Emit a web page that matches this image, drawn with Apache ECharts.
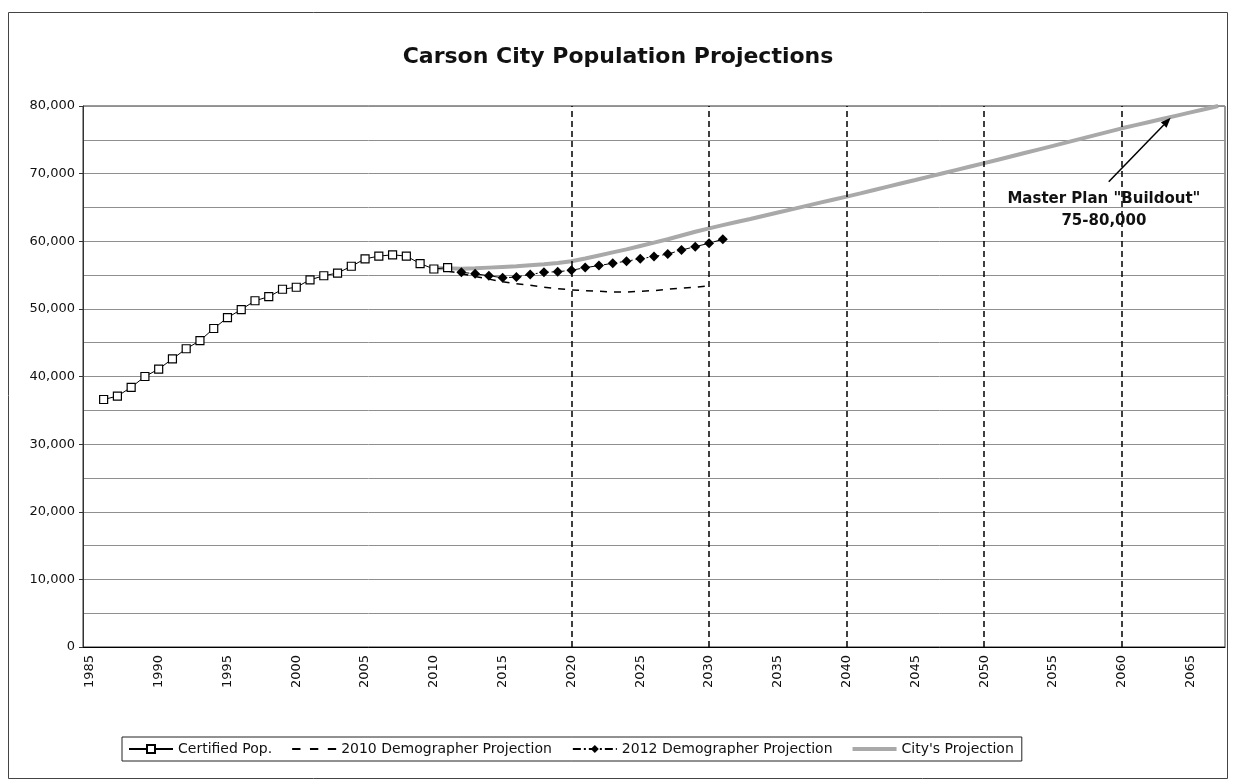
<!DOCTYPE html>
<html>
<head>
<meta charset="utf-8">
<title>Carson City Population Projections</title>
<script src="https://cdn.jsdelivr.net/npm/echarts@6/dist/echarts.min.js"></script>
<style>
  html, body { margin: 0; padding: 0; background: #ffffff; }
  #chart { width: 1236px; height: 782px; }
</style>
</head>
<body>
<div id="chart"></div>
<script>
// Year categories along the horizontal axis
const years = [
  '1985','1986','1987','1988','1989','1990','1991','1992','1993','1994',
  '1995','1996','1997','1998','1999','2000','2001','2002','2003','2004',
  '2005','2006','2007','2008','2009','2010','2011','2012','2013','2014',
  '2015','2016','2017','2018','2019','2020','2021','2022','2023','2024',
  '2025','2026','2027','2028','2029','2030','2031','2032','2033','2034',
  '2035','2036','2037','2038','2039','2040','2041','2042','2043','2044',
  '2045','2046','2047','2048','2049','2050','2051','2052','2053','2054',
  '2055','2056','2057','2058','2059','2060','2061','2062','2063','2064',
  '2065','2066','2067'
];

// Certified population, 1986-2011
const certifiedStart = 1986;
const certifiedPop = [
  36600, 37100, 38400, 40000, 41100, 42600, 44100, 45300, 47100, 48700,
  49900, 51200, 51800, 52900, 53200, 54300, 54900, 55300, 56300, 57400,
  57800, 58000, 57800, 56700, 55900, 56100
];

// 2010 demographer projection, 2011-2030
const demo2010Start = 2011;
const demo2010 = [
  55600, 55200, 54800, 54400, 54000, 53700, 53500, 53200, 53000, 52800,
  52700, 52600, 52500, 52500, 52600, 52700, 52900, 53050, 53200, 53400
];

// 2012 demographer projection, 2012-2031
const demo2012Start = 2012;
const demo2012 = [
  55400, 55200, 54900, 54600, 54700, 55100, 55400, 55500, 55700, 56100,
  56400, 56750, 57050, 57400, 57750, 58100, 58700, 59200, 59700, 60300
];

// City's projection, 2010-2067
const cityStart = 2010;
const cityProj = [
  56000, 56000, 55950, 56000, 56100, 56200, 56300, 56450, 56600, 56800,
  57050, 57450, 57900, 58350, 58800, 59300, 59800, 60300, 60850, 61400,
  61900, 62380, 62850, 63300, 63780, 64250, 64720, 65200, 65670, 66140,
  66600, 67080, 67580, 68080, 68570, 69060, 69560, 70060, 70560, 71060,
  71550, 72060, 72570, 73080, 73590, 74100, 74620, 75140, 75660, 76180,
  76700, 77170, 77640, 78110, 78580, 79050, 79520, 80000
];

// Decade reference lines
const decadeMarks = ['2020', '2030', '2040', '2050', '2060'];

// Y-axis range and label step
const yMin = 0, yMax = 80000, yStep = 10000;

const FONT = '"DejaVu Sans", Verdana, sans-serif';

function pairs(start, values) {
  return values.map((v, i) => [String(start + i), v]);
}

const chart = echarts.init(document.getElementById('chart'), null, { renderer: 'canvas' });

chart.setOption({
  animation: false,
  backgroundColor: '#ffffff',
  title: {
    text: 'Carson City Population Projections',
    left: 'center',
    top: 41,
    textStyle: { fontFamily: FONT, fontSize: 22, fontWeight: 'bold', color: '#111' }
  },
  legend: {
    left: 122,
    top: 737,
    orient: 'horizontal',
    itemGap: 20,
    itemWidth: 44,
    itemHeight: 10,
    padding: [5, 8, 5, 6],
    borderColor: '#222',
    borderWidth: 1,
    textStyle: { fontFamily: FONT, fontSize: 14, color: '#111' },
    data: [
      { name: 'Certified Pop.' },
      {
        name: '2010 Demographer Projection',
        icon: 'path://M0,0h7v1.6h-7z M15,0h7v1.6h-7z M30,0h7v1.6h-7z',
        itemStyle: { color: '#000' }
      },
      { name: '2012 Demographer Projection' },
      {
        name: "City's Projection",
        icon: 'path://M0,0h44v4h-44z',
        itemStyle: { color: '#a9a9a9' }
      }
    ]
  },
  grid: {
    left: 83,
    right: 11,
    top: 106,
    bottom: 135,
    show: true,
    borderColor: '#333',
    borderWidth: 1,
    backgroundColor: 'transparent'
  },
  xAxis: {
    type: 'category',
    data: years,
    boundaryGap: true,
    axisLine: { lineStyle: { color: '#000', width: 1 } },
    axisTick: { interval: 0, length: 4, lineStyle: { color: '#000' } },
    axisLabel: {
      interval: function (idx) { return idx % 5 === 0; },
      rotate: 90,
      margin: 8,
      fontFamily: FONT,
      fontSize: 13,
      color: '#111'
    },
    splitLine: { show: false }
  },
  yAxis: {
    type: 'value',
    min: yMin,
    max: yMax,
    interval: yStep,
    axisLine: { show: true, lineStyle: { color: '#333' } },
    axisTick: { show: true, length: 4, lineStyle: { color: '#333' } },
    axisLabel: {
      margin: 8,
      fontFamily: FONT,
      fontSize: 13,
      color: '#111',
      formatter: function (v) { return v.toLocaleString('en-US'); }
    },
    splitLine: { show: true, lineStyle: { color: '#8f8f8f', width: 1 } },
    minorTick: { show: false, splitNumber: 2 },
    minorSplitLine: { show: true, lineStyle: { color: '#8f8f8f', width: 1 } }
  },
  series: [
    {
      name: "City's Projection",
      type: 'line',
      data: pairs(cityStart, cityProj),
      symbol: 'none',
      z: 1,
      lineStyle: { color: '#a9a9a9', width: 4 },
      itemStyle: { color: '#a9a9a9' },
      markLine: {
        silent: true,
        symbol: ['none', 'none'],
        label: { show: false },
        lineStyle: { color: '#000', type: [6, 4], width: 1.5 },
        data: decadeMarks.map(y => ({ xAxis: y }))
      }
    },
    {
      name: '2010 Demographer Projection',
      type: 'line',
      data: pairs(demo2010Start, demo2010),
      symbol: 'none',
      z: 2,
      lineStyle: { color: '#000', width: 1.5, type: [7, 7] },
      itemStyle: { color: '#000' }
    },
    {
      name: '2012 Demographer Projection',
      type: 'line',
      data: pairs(demo2012Start, demo2012),
      symbol: 'diamond',
      symbolSize: 10,
      showAllSymbol: true,
      z: 3,
      lineStyle: { color: '#000', width: 1, type: [8, 3, 2, 3] },
      itemStyle: { color: '#000' }
    },
    {
      name: 'Certified Pop.',
      type: 'line',
      data: pairs(certifiedStart, certifiedPop),
      symbol: 'rect',
      symbolSize: 8,
      showAllSymbol: true,
      z: 4,
      lineStyle: { color: '#000', width: 1 },
      itemStyle: { color: '#fff', borderColor: '#000', borderWidth: 1.2 }
    }
  ]
});

// Position helper: fractional year + value -> pixel
function toPx(yearF, value) {
  const base = Math.floor(yearF);
  const p0 = chart.convertToPixel({ gridIndex: 0 }, [String(base), value]);
  const p1 = chart.convertToPixel({ gridIndex: 0 }, [String(base + 1), value]);
  return [p0[0] + (yearF - base) * (p1[0] - p0[0]), p0[1]];
}

// Buildout annotation with arrow pointing at the projection line
const arrowFrom = toPx(2059.05, 68800);
const arrowTo = toPx(2063.55, 78250);
const ang = Math.atan2(arrowTo[1] - arrowFrom[1], arrowTo[0] - arrowFrom[0]);
const headLen = 10, headW = 4;
const hx = arrowTo[0] - headLen * Math.cos(ang), hy = arrowTo[1] - headLen * Math.sin(ang);
const head = [
  arrowTo,
  [hx + headW * Math.sin(ang), hy - headW * Math.cos(ang)],
  [hx - headW * Math.sin(ang), hy + headW * Math.cos(ang)]
];
const labelPos = toPx(2058.7, 67900);

chart.setOption({
  graphic: [
    {
      type: 'rect',
      silent: true,
      shape: { x: 8.5, y: 12.5, width: 1219, height: 766 },
      style: { fill: 'none', stroke: '#444', lineWidth: 1 },
      z: -1
    },
    {
      type: 'line',
      silent: true,
      shape: { x1: arrowFrom[0], y1: arrowFrom[1], x2: hx, y2: hy },
      style: { stroke: '#000', lineWidth: 1.5 },
      z: 10
    },
    {
      type: 'polygon',
      silent: true,
      shape: { points: head },
      style: { fill: '#000' },
      z: 10
    },
    {
      type: 'text',
      silent: true,
      x: labelPos[0],
      y: labelPos[1],
      style: {
        text: 'Master Plan "Buildout"\n75-80,000',
        fill: '#111',
        font: 'bold 15px ' + FONT,
        align: 'center',
        verticalAlign: 'top',
        lineHeight: 22
      },
      z: 10
    }
  ]
});
</script>
</body>
</html>
